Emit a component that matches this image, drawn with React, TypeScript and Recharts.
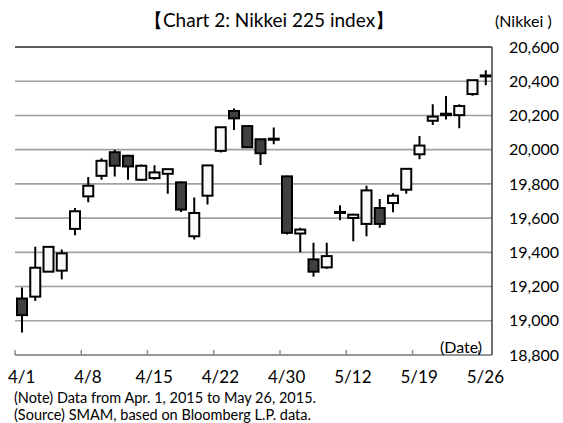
import { ComposedChart, Bar, XAxis, YAxis, CartesianGrid, ReferenceLine } from "recharts";

const dates = [
  "4/1", "4/2", "4/3", "4/6", "4/7", "4/8", "4/9", "4/10", "4/13", "4/14",
  "4/15", "4/16", "4/17", "4/20", "4/21", "4/22", "4/23", "4/24", "4/27", "4/28",
  "4/30", "5/1", "5/7", "5/8", "5/11", "5/12", "5/13", "5/14", "5/15", "5/18",
  "5/19", "5/20", "5/21", "5/22", "5/25", "5/26",
];
const opens = [
  19130, 19141, 19287, 19293, 19537, 19727, 19847, 19985, 19964, 19824,
  19834, 19859, 19809, 19494, 19731, 19993, 20226, 20138, 20061, 20064,
  19844, 19510, 19359, 19312, 19636, 19601, 19566, 19659, 19688, 19766,
  19973, 20169, 20210, 20202, 20325, 20428,
];
const highs = [
  19194, 19432, 19436, 19417, 19659, 19840, 19950, 19999, 19970, 19913,
  19909, 19886, 19812, 19721, 19908, 20131, 20241, 20138, 20061, 20129,
  19848, 19543, 19456, 19456, 19675, 19626, 19789, 19712, 19746, 19888,
  20080, 20266, 20313, 20266, 20406, 20464,
];
const lows = [
  18932, 19116, 19285, 19242, 19500, 19692, 19824, 19843, 19824, 19820,
  19824, 19743, 19636, 19475, 19679, 19983, 20115, 20014, 19911, 20032,
  19504, 19401, 19258, 19304, 19587, 19465, 19494, 19543, 19634, 19743,
  19944, 20144, 20177, 20125, 20315, 20377,
];
const closes = [
  19033, 19310, 19432, 19394, 19640, 19789, 19935, 19906, 19902, 19906,
  19867, 19886, 19650, 19630, 19908, 20131, 20183, 20014, 19979, 20058,
  19514, 19533, 19287, 19378, 19630, 19620, 19762, 19566, 19731, 19888,
  20024, 20193, 20202, 20255, 20406, 20434,
];
const yTicks = [18800, 19000, 19200, 19400, 19600, 19800, 20000, 20200, 20400, 20600];

const data = dates.map((d, i) => ({
  date: d,
  open: opens[i],
  high: highs[i],
  low: lows[i],
  close: closes[i],
  range: [lows[i], highs[i]],
}));

const FONT = "Lato, 'Noto Sans', sans-serif";
const BAND = 477 / 36;

function Candle(props: any) {
  const { x, y, width, height, payload } = props;
  const top = Math.min(y, y + height);
  const bottom = Math.max(y, y + height);
  const span = payload.high - payload.low;
  const k = span > 0 ? (bottom - top) / span : 0;
  const yOf = (v: number) => top + (payload.high - v) * k;
  const up = payload.close >= payload.open;
  const bt = yOf(Math.max(payload.open, payload.close));
  const bb = yOf(Math.min(payload.open, payload.close));
  const cx = x + width / 2;
  return (
    <g>
      <line x1={cx} x2={cx} y1={top} y2={bottom} stroke="#000" strokeWidth={2} />
      <rect
        x={x}
        y={bt}
        width={width}
        height={Math.max(bb - bt, 0.5)}
        fill={up ? "#fafafa" : "#404040"}
        stroke="#000"
        strokeWidth={2}
      />
    </g>
  );
}

function XTick(props: any) {
  const { x, y, payload } = props;
  const tx = x - BAND / 2;
  return (
    <g>
      <line x1={tx} x2={tx} y1={y - 5} y2={y} stroke="#8c8c8c" strokeWidth={1.5} />
      <text x={x} y={y + 24} textAnchor="middle" dominantBaseline="middle" fontSize={17} fontFamily={FONT} fill="#000">
        {payload.value}
      </text>
    </g>
  );
}

export default function App() {
  return (
    <div style={{ position: "absolute", left: 0, top: 0, width: 563, height: 423, background: "#fff" }}>
      <ComposedChart
        width={563}
        height={423}
        data={data}
        margin={{ top: 47, right: 1, bottom: 28, left: 15 }}
        barSize={10}
      >
        <CartesianGrid yAxisId="p" vertical={false} stroke="#a0a0a0" strokeWidth={1.6} />
        <XAxis
          dataKey="date"
          interval={4}
          height={40}
          axisLine={{ stroke: "#8c8c8c", strokeWidth: 1.5 }}
          tickLine={false}
          tickSize={0}
          tickMargin={0}
          tick={<XTick />}
        />
        <YAxis
          yAxisId="l"
          orientation="left"
          width={0}
          domain={[18800, 20600]}
          ticks={yTicks}
          tick={false}
          tickLine={false}
          axisLine={{ stroke: "#8c8c8c", strokeWidth: 1.5 }}
        />
        <YAxis
          yAxisId="p"
          orientation="right"
          width={70}
          domain={[18800, 20600]}
          ticks={yTicks}
          allowDataOverflow
          tickLine={false}
          tickSize={0}
          tickMargin={17}
          axisLine={{ stroke: "#404040", strokeWidth: 1.5 }}
          tick={{ fill: "#000", fontSize: 16, fontFamily: FONT }}
          tickFormatter={(v: number) => v.toLocaleString("en-US")}
        />
        <ReferenceLine yAxisId="p" y={20600} stroke="#404040" strokeWidth={1.5} />
        <Bar yAxisId="p" dataKey="range" shape={<Candle />} isAnimationActive={false} />
      </ComposedChart>
      <div style={{ position: "absolute", left: 0, width: 538, top: 8, textAlign: "center", fontFamily: FONT, fontSize: 19 }}>
        【Chart 2: Nikkei 225 index】
      </div>
      <div style={{ position: "absolute", left: 495, top: 11, fontFamily: FONT, fontSize: 16 }}>(Nikkei )</div>
      <div style={{ position: "absolute", left: 440, top: 337, fontFamily: FONT, fontSize: 16 }}>(Date)</div>
      <div style={{ position: "absolute", left: 14, top: 389, fontFamily: FONT, fontSize: 14.5, lineHeight: "17px" }}>
        (Note) Data from Apr. 1, 2015 to May 26, 2015.
        <br />
        (Source) SMAM, based on Bloomberg L.P. data.
      </div>
    </div>
  );
}
